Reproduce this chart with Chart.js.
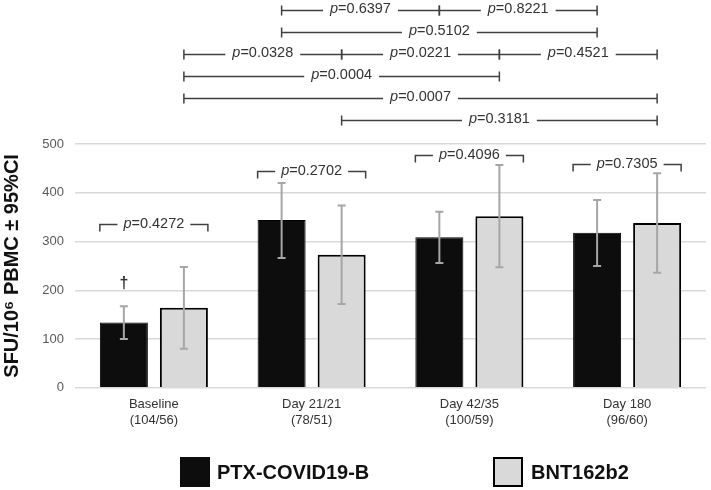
<!DOCTYPE html>
<html>
<head>
<meta charset="utf-8">
<script src="https://cdn.jsdelivr.net/npm/chart.js@4.4.1/dist/chart.umd.min.js"></script>
<style>
  html, body { margin: 0; padding: 0; background: #fff; }
  #wrap { width: 711px; height: 490px; }
</style>
</head>
<body>
<div id="wrap"><canvas id="sfuChart" width="711" height="490"></canvas></div>
<script>
// category labels (day + group sizes)
var categories = [['Baseline', '(104/56)'], ['Day 21/21', '(78/51)'], ['Day 42/35', '(100/59)'], ['Day 180', '(96/60)']];
var yTicks = [0, 100, 200, 300, 400, 500];

// PTX-COVID19-B mean and 95% CI
var ptxMean = [134, 344, 309, 318];
var ptxLow = [100, 266, 256, 250];
var ptxHigh = [167, 420, 361, 385];

// BNT162b2 mean and 95% CI
var bntMean = [164, 273, 352, 338];
var bntLow = [80, 172, 247, 236];
var bntHigh = [248, 374, 457, 440];

// between-vaccine p-values per day
var withinP = ['0.4272', '0.2702', '0.4096', '0.7305'];
var withinLevel = [336, 444, 477, 459];

// across-day p-values: [dataset, from, to, p]
var acrossP = [
    [0, 1, 2, '0.6397'], [0, 2, 3, '0.8221'],
    [0, 1, 3, '0.5102'],
    [1, 0, 1, '0.0328'], [1, 1, 2, '0.0221'], [1, 2, 3, '0.4521'],
    [1, 0, 2, '0.0004'],
    [1, 0, 3, '0.0007'],
    [1, 1, 3, '0.3181']
];
var acrossRow = [0, 0, 1, 2, 2, 2, 3, 4, 5];

var FONT = '"Liberation Sans", Arial, sans-serif';

function pLabel(ctx, cx, cy, val, size) {
    ctx.font = 'italic ' + size + 'px ' + FONT;
    var w1 = ctx.measureText('p').width;
    ctx.font = size + 'px ' + FONT;
    var w2 = ctx.measureText('=' + val).width;
    var x0 = cx - (w1 + w2) / 2;
    ctx.textAlign = 'left';
    ctx.textBaseline = 'middle';
    ctx.font = 'italic ' + size + 'px ' + FONT;
    ctx.fillText('p', x0, cy);
    ctx.font = size + 'px ' + FONT;
    ctx.fillText('=' + val, x0 + w1, cy);
    return w1 + w2;
}

var annotations = {
    id: 'annotations',
    afterDatasetsDraw: function (chart) {
        var ctx = chart.ctx;
        var y = chart.scales.y;
        var m0 = chart.getDatasetMeta(0).data;
        var m1 = chart.getDatasetMeta(1).data;

        // error bars
        ctx.save();
        ctx.strokeStyle = '#a6a6a6';
        ctx.lineWidth = 2;
        [[m0, ptxLow, ptxHigh], [m1, bntLow, bntHigh]].forEach(function (s) {
            s[0].forEach(function (b, i) {
                var y1 = y.getPixelForValue(s[1][i]), y2 = y.getPixelForValue(s[2][i]);
                ctx.beginPath();
                ctx.moveTo(b.x, y1); ctx.lineTo(b.x, y2);
                ctx.moveTo(b.x - 4, y1); ctx.lineTo(b.x + 4, y1);
                ctx.moveTo(b.x - 4, y2); ctx.lineTo(b.x + 4, y2);
                ctx.stroke();
            });
        });

        ctx.strokeStyle = '#404040';
        ctx.fillStyle = '#333';
        ctx.lineWidth = 1.5;

        // dagger on baseline PTX
        ctx.font = 'bold 16px ' + FONT;
        ctx.textAlign = 'center';
        ctx.textBaseline = 'middle';
        ctx.fillText('\u2020', m0[0].x, y.getPixelForValue(ptxHigh[0]) - 23);

        // between-vaccine brackets
        withinP.forEach(function (p, i) {
            var x1 = m0[i].x - m0[i].width / 2, x2 = m1[i].x + m1[i].width / 2;
            var yy = Math.round(y.getPixelForValue(withinLevel[i])) + 0.5;
            var cx = (x1 + x2) / 2;
            var w = pLabel(ctx, cx, yy - 1, p, 14.5);
            ctx.beginPath();
            ctx.moveTo(x1, yy + 7); ctx.lineTo(x1, yy); ctx.lineTo(cx - w / 2 - 6, yy);
            ctx.moveTo(cx + w / 2 + 6, yy); ctx.lineTo(x2, yy); ctx.lineTo(x2, yy + 7);
            ctx.stroke();
        });

        // across-day brackets above the plot
        acrossP.forEach(function (a, k) {
            var bars = chart.getDatasetMeta(a[0]).data;
            var x1 = bars[a[1]].x, x2 = bars[a[2]].x;
            var yy = 10.5 + acrossRow[k] * 22;
            var cx = (x1 + x2) / 2;
            var w = pLabel(ctx, cx, yy - 2, a[3], 14.5);
            ctx.beginPath();
            ctx.moveTo(x1, yy); ctx.lineTo(cx - w / 2 - 7, yy);
            ctx.moveTo(cx + w / 2 + 7, yy); ctx.lineTo(x2, yy);
            ctx.moveTo(x1, yy - 5); ctx.lineTo(x1, yy + 5);
            ctx.moveTo(x2, yy - 5); ctx.lineTo(x2, yy + 5);
            ctx.stroke();
        });
        ctx.restore();
    },
    afterDraw: function (chart) {
        // legend
        var ctx = chart.ctx;
        ctx.save();
        ctx.fillStyle = '#0d0d0d';
        ctx.fillRect(180, 457, 30, 30);
        ctx.fillStyle = '#d9d9d9';
        ctx.fillRect(494, 458, 28, 28);
        ctx.strokeStyle = '#000';
        ctx.lineWidth = 2;
        ctx.strokeRect(494, 458, 28, 28);
        ctx.fillStyle = '#111';
        ctx.font = 'bold 20px ' + FONT;
        ctx.textAlign = 'left';
        ctx.textBaseline = 'middle';
        ctx.fillText('PTX-COVID19-B', 217, 473);
        ctx.fillText('BNT162b2', 531, 473);
        ctx.restore();
    }
};

var ctx = document.getElementById('sfuChart').getContext('2d');
new Chart(ctx, {
    type: 'bar',
    data: {
        labels: categories,
        datasets: [
            { label: 'PTX-COVID19-B', data: ptxMean, backgroundColor: '#0d0d0d', borderColor: '#000', borderWidth: 1 },
            { label: 'BNT162b2', data: bntMean, backgroundColor: '#d9d9d9', borderColor: '#000', borderWidth: 2 }
        ]
    },
    options: {
        responsive: false,
        animation: false,
        categoryPercentage: 0.761,
        barPercentage: 0.8,
        layout: { padding: { top: 144, right: 5, bottom: 61, left: 0 } },
        plugins: { legend: { display: false }, tooltip: { enabled: false } },
        scales: {
            x: {
                grid: { display: false },
                border: { display: false },
                ticks: { color: '#333', font: { family: FONT, size: 13 }, padding: 1, maxRotation: 0 }
            },
            y: {
                min: 0,
                max: 500,
                afterBuildTicks: function (s) { s.ticks = yTicks.map(function (v) { return { value: v }; }); },
                grid: { color: '#d9d9d9', lineWidth: 1.5, drawTicks: false },
                border: { display: false },
                ticks: { color: '#595959', font: { family: FONT, size: 13 }, padding: 11 },
                title: {
                    display: true,
                    text: 'SFU/10\u2076 PBMC \u00b1 95%CI',
                    color: '#111',
                    font: { family: FONT, size: 20, weight: 'bold' },
                    padding: { top: 0, bottom: 0 }
                },
                afterFit: function (s) { s.width = 75; }
            }
        }
    },
    plugins: [annotations]
});
</script>
</body>
</html>
